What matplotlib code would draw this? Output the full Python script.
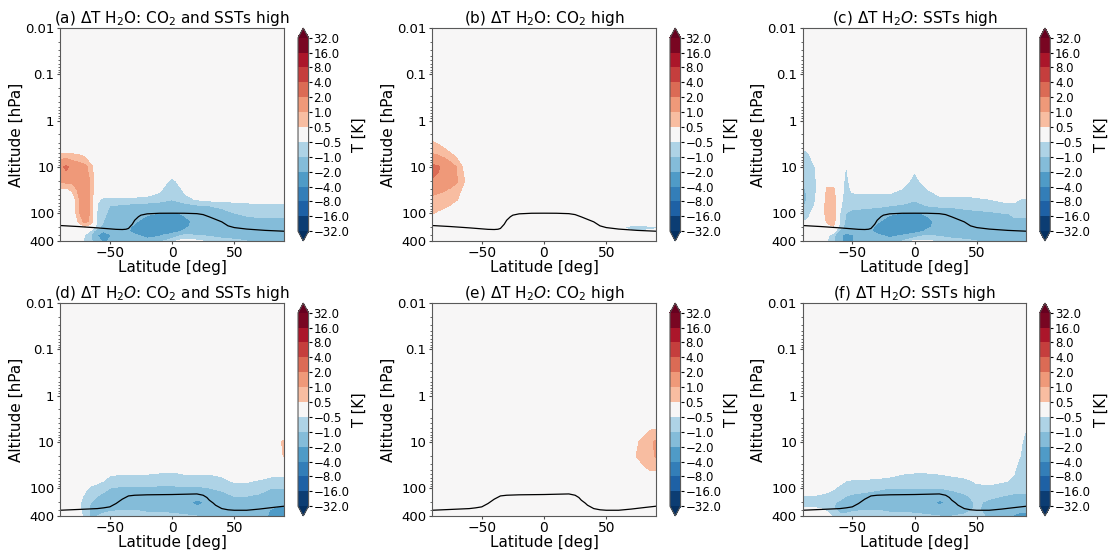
import numpy as np
import matplotlib
matplotlib.use('Agg')
import matplotlib.pyplot as plt
from matplotlib.colors import SymLogNorm
from matplotlib.ticker import FuncFormatter, NullFormatter

# grid (latitude in deg, pressure in hPa)
lats = [-90, -85, -80, -75, -70, -65, -60, -55, -50,
        -40, -30, -20, -10, 0, 10, 20,
        30, 40, 50, 60, 70, 75, 80, 85, 90]
pres = [400, 300, 250, 200, 150, 100, 70, 50, 30, 20, 10, 5, 2, 1, 0.1, 0.01]

levels = [-32, -16, -8, -4, -2, -1, -0.5, 0.5, 1, 2, 4, 8, 16, 32]

z9 = [0] * 9
z7 = [0] * 7
calm = [0] * 25

# temperature change [K], one row per pressure level (400 hPa first)
dT_a = [
    [0, 0, 0, -0.3, -0.6, -0.9, -1.5, -2.3, -1.8] + [-1.0, -1.2, -1.5, -1.2, -0.6, -0.3, -0.4] + [-0.6, -0.8, -0.9, -1.0, -1.0, -1.0, -1.0, -1.0, -1.0],
    [0, 0, 0, -0.2, -0.5, -1.0, -2.0, -2.6, -2.1] + [-1.3, -1.8, -2.5, -2.2, -1.5, -0.9, -1.0] + [-1.1, -1.2, -1.2, -1.3, -1.3, -1.3, -1.3, -1.3, -1.3],
    [0, 0, 0, 0, -0.2, -0.7, -1.5, -2.0, -1.6] + [-1.4, -2.5, -3.0, -3.0, -2.5, -1.8, -1.3] + [-1.3, -1.5, -1.4, -1.3, -1.2, -1.2, -1.2, -1.2, -1.2],
    [0, 0, 0, 0.2, 0.4, 0.1, -0.8, -1.2, -1.2] + [-1.3, -2.3, -3.2, -3.2, -2.8, -2.2, -1.6] + [-1.5, -1.6, -1.4, -1.2, -1.1, -1.1, -1.1, -1.1, -1.1],
    [0, 0, 0, 0.6, 1.2, 0.8, -0.6, -1.0, -1.1] + [-1.2, -1.8, -2.6, -2.8, -2.6, -2.2, -1.8] + [-1.6, -1.5, -1.3, -1.2, -1.1, -1.1, -1.1, -1.1, -1.1],
    [0, 0, 0, 0.9, 1.6, 0.8, -0.6, -0.9, -1.1] + [-1.2, -1.4, -1.8, -2.0, -2.1, -1.9, -1.6] + [-1.4, -1.2, -1.0, -0.9, -0.9, -0.9, -0.9, -0.9, -0.9],
    [0, 0, 0.1, 0.9, 1.8, 0.8, -0.55, -0.8, -1.0] + [-1.1, -1.2, -1.3, -1.4, -1.5, -1.3, -1.1] + [-1.0, -0.9, -0.8, -0.7, -0.6, -0.6, -0.6, -0.6, -0.6],
    [0, 0, 0.2, 0.9, 1.8, 0.8, -0.4, -0.6, -0.65] + [-0.65, -0.65, -0.65, -0.75, -0.95, -0.65, -0.45] + [-0.35, -0.3, -0.3, -0.3, -0.3, -0.3, -0.3, -0.3, -0.3],
    [0.4, 0.45, 0.6, 1.2, 1.8, 0.8, 0, 0, 0] + [0, 0, -0.2, -0.4, -0.85, -0.4, -0.1] + z9,
    [1.1, 1.2, 1.2, 1.3, 1.7, 0.8, 0, 0, 0] + [0, 0, 0, -0.15, -0.65, -0.15, 0] + z9,
    [1.8, 2.2, 1.6, 1.4, 1.2, 0.6, 0.2, 0, 0] + z7 + z9,
    [0.45, 0.45, 0.45, 0.4, 0.3, 0.1, 0, 0, 0] + z7 + z9,
    calm, calm, calm, calm,
]

dT_b = [
    calm,
    calm,
    z9 + z7 + [0, 0, 0, -0.2, -0.45, -0.45, -0.45, -0.4, -0.35],
    z9 + z7 + [0, 0, 0, -0.4, -0.65, -0.65, -0.65, -0.6, -0.6],
    calm,
    [0.55, 0.4, 0.2, 0, 0, 0, 0, 0, 0] + z7 + z9,
    [0.75, 0.7, 0.6, 0.45, 0.2, 0, 0, 0, 0] + z7 + z9,
    [0.9, 0.85, 0.8, 0.7, 0.55, 0.2, 0, 0, 0] + z7 + z9,
    [1.15, 1.1, 1.05, 0.95, 0.8, 0.4, 0.1, 0, 0] + z7 + z9,
    [1.9, 1.8, 1.6, 1.35, 1.05, 0.6, 0.2, 0, 0] + z7 + z9,
    [2.3, 2.1, 1.7, 1.35, 0.95, 0.45, 0.1, 0, 0] + z7 + z9,
    [0.95, 0.85, 0.7, 0.5, 0.3, 0.1, 0, 0, 0] + z7 + z9,
    [0.35, 0.25, 0.1, 0, 0, 0, 0, 0, 0] + z7 + z9,
    calm, calm, calm,
]

dT_c = [
    [0, 0, 0, 0, -0.5, -0.9, -1.8, -2.3, -2.1] + [-1.1, -1.2, -1.4, -1.0, -0.4, -0.4, -0.6] + [-0.8, -0.9, -1.0, -1.0, -1.0, -1.0, -1.0, -1.0, -1.0],
    [0, 0, 0, -0.1, -0.4, -0.8, -1.7, -2.4, -2.1] + [-1.3, -1.8, -2.4, -2.0, -1.4, -1.0, -1.1] + [-1.2, -1.2, -1.2, -1.2, -1.2, -1.2, -1.2, -1.3, -1.3],
    [0, 0, 0, 0, 0, -0.3, -1.2, -1.6, -1.5] + [-1.4, -2.4, -3.0, -3.0, -2.5, -1.8, -1.3] + [-1.3, -1.4, -1.3, -1.2, -1.2, -1.2, -1.1, -1.1, -1.1],
    [0, 0, 0, 0.1, 0.35, 0.45, -0.7, -1.2, -1.2] + [-1.3, -2.3, -3.2, -3.2, -2.8, -2.2, -1.6] + [-1.5, -1.6, -1.4, -1.2, -1.1, -1.1, -1.1, -1.1, -1.1],
    [-0.55, -0.4, -0.15, 0.1, 0.6, 0.8, -0.6, -1.1, -1.1] + [-1.2, -1.8, -2.6, -2.8, -2.6, -2.2, -1.8] + [-1.6, -1.5, -1.3, -1.2, -1.1, -1.1, -1.1, -1.1, -1.1],
    [-0.8, -0.6, -0.3, 0.1, 0.8, 0.9, -0.5, -1.0, -1.1] + [-1.2, -1.4, -1.8, -2.0, -2.1, -1.9, -1.6] + [-1.4, -1.3, -1.2, -1.1, -1.0, -1.0, -0.9, -0.9, -0.9],
    [-1.1, -0.8, -0.45, 0.1, 0.8, 0.9, -0.4, -0.8, -0.9] + [-0.9, -0.9, -1.0, -1.1, -1.3, -1.0, -0.9] + [-0.9, -0.8, -0.7, -0.7, -0.6, -0.55, -0.55, -0.6, -0.6],
    [-1.2, -0.9, -0.55, 0.1, 0.7, 0.8, -0.3, -0.8, -0.7] + [-0.65, -0.65, -0.65, -0.7, -0.9, -0.7, -0.6] + [-0.6, -0.6, -0.55, -0.5, -0.45, -0.45, -0.45, -0.5, -0.55],
    [-1.1, -0.9, -0.65, 0, 0.6, 0.6, -0.2, -0.7, -0.4] + [-0.4, -0.4, -0.4, -0.5, -0.8, -0.5, -0.3] + [-0.3, -0.3, -0.3, -0.25, -0.2, -0.2, -0.2, -0.2, -0.25],
    [-0.9, -0.75, -0.6, -0.1, 0.2, 0.2, -0.1, -0.7, -0.2] + [0, 0, 0, -0.2, -0.7, -0.2, 0] + z9,
    [-0.75, -0.65, -0.5, -0.1, 0, 0, 0, -0.55, 0] + [0, 0, 0, 0, -0.4, 0, 0] + z9,
    [-0.6, -0.5, -0.3, 0, 0, 0, 0, -0.2, 0] + z7 + z9,
    [-0.3, -0.2, 0, 0, 0, 0, 0, 0, 0] + z7 + z9,
    calm, calm, calm,
]

dT_d = [
    [0.6, 0, 0, -0.1, -0.8, -1.1, -1.0, -0.8, -0.7] + [-0.7, -0.8, -0.8, -0.8, -0.8, -0.9, -1.0] + [-1.1, -1.2, -1.3, -1.4, -1.6, -1.9, -2.2, -2.4, -2.5],
    [0, 0, 0, -0.3, -0.8, -1.1, -1.2, -1.2, -1.1] + [-1.0, -1.0, -1.1, -1.1, -1.2, -1.3, -1.4] + [-1.4, -1.3, -1.4, -1.5, -1.6, -1.8, -2.1, -2.3, -2.4],
    [0, 0, -0.1, -0.4, -0.8, -1.1, -1.2, -1.2, -1.2] + [-1.2, -1.3, -1.3, -1.3, -1.4, -1.6, -2.0] + [-1.7, -1.4, -1.4, -1.4, -1.5, -1.6, -1.8, -2.0, -2.1],
    [0, 0, -0.1, -0.4, -0.7, -1.0, -1.1, -1.2, -1.3] + [-1.4, -1.5, -1.5, -1.5, -1.5, -1.6, -2.3] + [-1.8, -1.4, -1.3, -1.3, -1.3, -1.4, -1.5, -1.6, -1.7],
    [0, 0, 0, -0.3, -0.6, -0.9, -1.0, -1.1, -1.2] + [-1.3, -1.4, -1.4, -1.4, -1.4, -1.4, -1.5] + [-1.4, -1.2, -1.0, -1.0, -1.1, -1.2, -1.2, -1.3, -1.3],
    [0, 0, 0, -0.1, -0.4, -0.6, -0.7, -0.9, -1.0] + [-1.1, -1.1, -1.1, -1.1, -1.1, -1.1, -1.1] + [-1.0, -0.9, -0.7, -0.7, -0.8, -0.9, -1.0, -1.0, -1.0],
    [0, 0, 0, 0, -0.2, -0.3, -0.4, -0.5, -0.7] + [-0.7, -0.7, -0.75, -0.8, -0.8, -0.75, -0.75] + [-0.7, -0.6, -0.45, -0.45, -0.55, -0.6, -0.7, -0.7, -0.7],
    [0, 0, 0, 0, 0, 0, 0, -0.2, -0.45] + [-0.5, -0.5, -0.5, -0.55, -0.6, -0.5, -0.5] + [-0.5, -0.45, -0.3, -0.3, -0.3, -0.35, -0.4, -0.4, -0.4],
    z9 + [0, 0, 0, -0.2, -0.2, -0.2, 0] + [0, 0, 0, 0, 0, 0, 0, 0, 0.2],
    z9 + z7 + [0, 0, 0, 0, 0, 0, 0, 0.2, 0.55],
    z9 + z7 + [0, 0, 0, 0, 0, 0, 0, 0.35, 0.6],
    calm, calm, calm, calm, calm,
]

dT_e = [
    calm, calm, calm, calm, calm, calm, calm,
    z9 + z7 + [0, 0, 0, 0, 0, 0.1, 0.2, 0.3, 0.3],
    z9 + z7 + [0, 0, 0, 0, 0, 0.3, 0.55, 0.75, 0.8],
    z9 + z7 + [0, 0, 0, 0, 0.3, 0.55, 0.7, 0.85, 1.05],
    z9 + z7 + [0, 0, 0, 0, 0.1, 0.45, 0.65, 0.85, 1.1],
    z9 + z7 + [0, 0, 0, 0, 0, 0, 0.3, 0.45, 0.45],
    calm, calm, calm, calm,
]

dT_f = [
    [0, 0, 0, 0, -0.2, -0.6, -0.9, -0.8, -0.7] + [-0.7, -0.8, -0.8, -0.8, -0.8, -0.9, -1.0] + [-1.0, -0.9, -0.8, -1.1, -1.4, -1.7, -2.1, -2.3, -2.3],
    [-0.3, -0.3, -0.3, -0.4, -0.6, -0.9, -1.1, -1.2, -1.1] + [-1.0, -1.0, -1.1, -1.1, -1.2, -1.3, -1.4] + [-1.4, -1.2, -0.9, -1.2, -1.4, -1.5, -1.7, -1.8, -1.8],
    [-0.6, -0.6, -0.6, -0.65, -0.8, -1.0, -1.1, -1.2, -1.2] + [-1.2, -1.3, -1.3, -1.3, -1.4, -1.5, -1.9] + [-1.7, -1.3, -0.9, -1.2, -1.3, -1.4, -1.5, -1.6, -1.6],
    [-0.7, -0.7, -0.7, -0.75, -0.8, -0.95, -1.05, -1.15, -1.25] + [-1.3, -1.4, -1.4, -1.4, -1.5, -1.6, -2.2] + [-1.8, -1.3, -0.9, -1.1, -1.2, -1.25, -1.3, -1.3, -1.3],
    [-0.55, -0.55, -0.55, -0.6, -0.7, -0.8, -0.9, -1.0, -1.1] + [-1.2, -1.3, -1.3, -1.3, -1.3, -1.3, -1.4] + [-1.3, -1.1, -0.8, -0.9, -1.0, -1.05, -1.1, -1.1, -1.1],
    [-0.2, -0.2, -0.2, -0.25, -0.3, -0.45, -0.6, -0.7, -0.75] + [-0.8, -0.9, -1.0, -1.0, -1.0, -1.0, -1.0] + [-0.9, -0.8, -0.6, -0.6, -0.7, -0.75, -0.8, -0.85, -0.85],
    [0, 0, 0, 0, -0.1, -0.3, -0.4, -0.5, -0.55] + [-0.55, -0.6, -0.65, -0.7, -0.7, -0.7, -0.7] + [-0.65, -0.6, -0.45, -0.4, -0.45, -0.5, -0.6, -0.7, -0.75],
    [0, 0, 0, 0, 0, 0, 0, -0.2, -0.3] + [-0.35, -0.35, -0.4, -0.5, -0.55, -0.55, -0.5] + [-0.45, -0.4, -0.2, -0.2, -0.25, -0.3, -0.5, -0.65, -0.7],
    z9 + [0, 0, 0, -0.2, -0.2, -0.2, 0] + [0, 0, 0, 0, 0, -0.2, -0.4, -0.6, -0.7],
    z9 + z7 + [0, 0, 0, 0, 0, 0, -0.2, -0.5, -0.65],
    z9 + z7 + [0, 0, 0, 0, 0, 0, 0, -0.45, -0.6],
    z9 + z7 + [0, 0, 0, 0, 0, 0, 0, 0, -0.52],
    calm, calm, calm, calm,
]

# tropopause (black line), top row and bottom row
trop_lat_top = [-90, -75, -60, -45, -40, -37, -35, -32, -30, -27, -25, -20, -10, 0,
                10, 20, 25, 30, 35, 40, 45, 50, 60, 75, 90]
trop_p_top = [186, 196, 209, 225, 227, 224, 215, 175, 143, 120, 111, 104, 101, 100.7,
              101, 103, 108, 121, 137, 155, 189, 206, 222, 237, 247]
trop_lat_bot = [-90, -75, -60, -55, -50, -45, -40, -35, -30, -20, 0, 15, 20, 25, 28,
                30, 33, 35, 40, 45, 50, 60, 70, 80, 90]
trop_p_bot = [302, 290, 278, 268, 255, 216, 174, 148, 143, 140, 138, 135, 134, 143, 160,
              183, 210, 235, 278, 295, 302, 302, 285, 265, 247]

titles = [
    '(a) ΔT H$_2$O: CO$_2$ and SSTs high',
    '(b) ΔT H$_2$O: CO$_2$ high',
    '(c) ΔT H$_2O$: SSTs high',
    '(d) ΔT H$_2O$: CO$_2$ and SSTs high',
    '(e) ΔT H$_2O$: CO$_2$ high',
    '(f) ΔT H$_2O$: SSTs high',
]

ytick_vals = [0.01, 0.1, 1, 10, 100, 400]
ytick_labels = ['0.01', '0.1', '1', '10', '100', '400']

col_left = [0.054, 0.3885, 0.7217]
cbar_left = [0.268, 0.6025, 0.935]
row_bottom = [0.562, 0.062]
ax_w, ax_h = 0.2014, 0.387

fmt = FuncFormatter(lambda v, pos: f'{v:.1f}'.replace('-', '\u2212'))
cmap = plt.get_cmap('RdBu_r')
norm = SymLogNorm(linthresh=0.5, linscale=0.5, vmin=-32, vmax=32, base=10)

fig = plt.figure(figsize=(11.12, 5.5), dpi=100)

panels = [dT_a, dT_b, dT_c, dT_d, dT_e, dT_f]
for i, field in enumerate(panels):
    row, col = divmod(i, 3)
    ax = fig.add_axes([col_left[col], row_bottom[row], ax_w, ax_h])
    cs = ax.contourf(lats, pres, np.array(field), levels=levels,
                     cmap=cmap, norm=norm, extend='both')
    if row == 0:
        ax.plot(trop_lat_top, trop_p_top, color='k', lw=0.9)
    else:
        ax.plot(trop_lat_bot, trop_p_bot, color='k', lw=0.9)
    ax.set_yscale('log')
    ax.set_ylim(400, 0.01)
    ax.set_xlim(-90, 90)
    ax.set_yticks(ytick_vals)
    ax.set_yticklabels(ytick_labels)
    ax.yaxis.set_minor_formatter(NullFormatter())
    ax.set_xticks([-50, 0, 50])
    ax.tick_params(axis='both', length=2.5, pad=1.5, color='0.3')
    ax.tick_params(axis='y', which='minor', length=1.5, color='0.3')
    ax.tick_params(axis='x', labelsize=10)
    ax.tick_params(axis='y', labelsize=9.5)
    for sp in ax.spines.values():
        sp.set_edgecolor('0.35')
    ax.set_xlabel('Latitude [deg]', fontsize=11, labelpad=-0.5)
    ax.set_ylabel('Altitude [hPa]', fontsize=11, labelpad=1)
    ax.set_title(titles[i], fontsize=11, pad=2)

    cax = fig.add_axes([cbar_left[col], row_bottom[row], 0.0095, ax_h])
    cb = fig.colorbar(cs, cax=cax, ticks=levels, format=fmt)
    cb.ax.tick_params(labelsize=8.5, length=2.5, pad=1)
    cb.outline.set_edgecolor('0.35')
    cb.set_label('T [K]', fontsize=10.5, labelpad=2)

fig.savefig('out.png', dpi=100)
